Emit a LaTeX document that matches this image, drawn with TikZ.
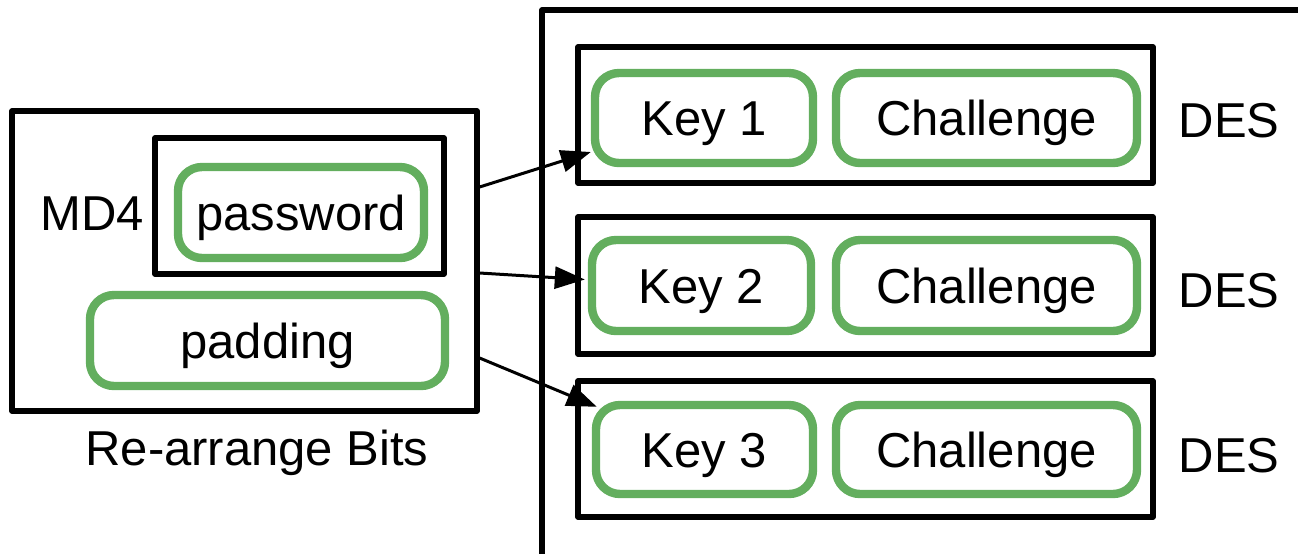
\documentclass[tikz,border=0pt]{standalone}
\usepackage{fontspec}
\setmainfont{Liberation Sans}
\usetikzlibrary{arrows.meta}
\definecolor{keygreen}{RGB}{99,174,94}
\tikzset{
  blackbox/.style={draw=black, line width=2.6pt, line join=round, rectangle, inner sep=0pt},
  greenbox/.style={draw=keygreen, line width=4.2pt, rectangle, rounded corners=12pt,
    inner sep=0pt, font=\fontsize{24.5pt}{28pt}\selectfont, text height=17.6pt, text depth=0pt},
  label/.style={font=\fontsize{24.5pt}{28pt}\selectfont, inner sep=0pt},
  capcentred/.style={text height=17.6pt, text depth=0pt},
  link/.style={line width=1.5pt, -{Triangle[length=15pt,width=11pt]}}
}
\begin{document}
\begin{tikzpicture}[x=0.5pt, y=-0.5pt]
\useasboundingbox (0,0) rectangle (1298,553);

% left block: password hashed with MD4, plus padding
\node[blackbox, minimum width=232.5pt, minimum height=150pt] (lb) at (244.5,261) {};
\node[blackbox, minimum width=144.5pt, minimum height=68pt] (md4box) at (299.5,206) {};
\node[greenbox, minimum width=123pt, minimum height=45.5pt] (pw) at (301,212.5) {password};
\node[greenbox, minimum width=177.5pt, minimum height=45.5pt] (pad) at (267.5,340.5) {padding};
\node[label, capcentred] (md4) at (92,213) {MD4};
\node[label, anchor=base] (rearr) at (257,465) {Re-arrange Bits};

% right frame holding the three DES stages
\node[blackbox, minimum width=454pt, minimum height=345pt] (frame) at (996,355) {};

\node[blackbox, minimum width=287.5pt, minimum height=68pt] (row1) at (865.5,115) {};
\node[blackbox, minimum width=287.5pt, minimum height=68.5pt] (row2) at (865.5,285.5) {};
\node[blackbox, minimum width=287.5pt, minimum height=68pt] (row3) at (865.5,449) {};

\node[greenbox, minimum width=109pt, minimum height=45pt] (key1) at (704,118) {Key 1};
\node[greenbox, minimum width=109.5pt, minimum height=45.5pt] (key2) at (701.5,285.5) {Key 2};
\node[greenbox, minimum width=108.5pt, minimum height=44.5pt] (key3) at (704.5,449.5) {Key 3};

\node[greenbox, minimum width=150.5pt, minimum height=45pt] (ch1) at (986.5,118) {Challenge};
\node[greenbox, minimum width=150.5pt, minimum height=45.5pt] (ch2) at (986.5,285.5) {Challenge};
\node[greenbox, minimum width=150.5pt, minimum height=44.5pt] (ch3) at (986.5,449.5) {Challenge};

\node[label, capcentred] (des1) at (1229,120) {DES};
\node[label, capcentred] (des2) at (1229,290) {DES};
\node[label, capcentred] (des3) at (1229,455) {DES};

% key material split into three DES keys
\draw[link] ([yshift=37pt]lb.east) -- ([yshift=-17pt]key1.west);
\draw[link] ([yshift=-6pt]lb.east) -- ([xshift=-1.5pt,yshift=3pt]key2.west);
\draw[link] ([yshift=-48.5pt]lb.east) -- ([xshift=2.5pt,yshift=-3pt]key3.north west);
\end{tikzpicture}
\end{document}
